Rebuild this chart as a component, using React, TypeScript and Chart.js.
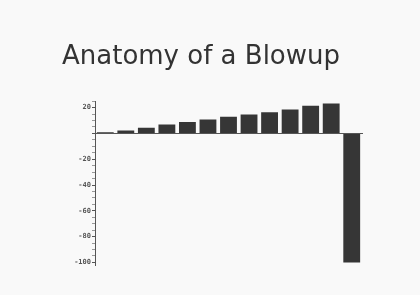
import React, { useEffect, useRef } from "react";
import { Chart, registerables } from "chart.js";

Chart.register(...registerables);

const categories = ["1", "2", "3", "4", "5", "6", "7", "8", "9", "10", "11", "12", "13"];
const values = [1, 2.3, 4.4, 7, 8.8, 10.8, 12.9, 14.7, 16.5, 18.6, 21.4, 23.2, -100];
const yMin = -102;
const yMax = 25;
const labelStep = 20;
const minorStep = 5;
const titleText = "Anatomy of a Blowup";

export default function App() {
  const ref = useRef<HTMLCanvasElement | null>(null);
  useEffect(() => {
    if (!ref.current) return;
    const chart = new Chart(ref.current, {
      type: "bar",
      data: {
        labels: categories,
        datasets: [
          {
            data: values,
            backgroundColor: "#363636",
            borderWidth: 0,
            categoryPercentage: 1,
            barPercentage: 0.82,
          },
        ],
      },
      options: {
        animation: false,
        responsive: true,
        maintainAspectRatio: false,
        layout: { padding: { left: 0, right: 18, top: 0, bottom: 30 } },
        plugins: {
          legend: { display: false },
          tooltip: { enabled: false },
          title: {
            display: true,
            text: titleText,
            color: "#333333",
            font: { family: "DejaVu Sans", size: 26, weight: "normal", lineHeight: 1.2 },
            padding: { top: 42, bottom: 28 },
          },
        },
        scales: {
          x: {
            position: { y: 0 } as any,
            grid: { display: false },
            ticks: { display: false },
            border: { display: true, color: "#555555", width: 1 },
          },
          y: {
            min: yMin,
            max: yMax,
            afterFit: (s: any) => {
              s.width = 95;
            },
            grid: {
              drawOnChartArea: false,
              drawTicks: true,
              tickLength: 3,
              tickColor: (ctx: any) =>
                ctx.tick && ctx.tick.value % labelStep === 0 ? "#555555" : "#999999",
            },
            border: { display: true, color: "#555555", width: 1 },
            ticks: {
              stepSize: minorStep,
              autoSkip: false,
              includeBounds: false,
              padding: 1,
              color: "#555555",
              font: { family: "DejaVu Sans Mono", size: 7, weight: "bold" },
              callback: (v: any) => (Number(v) % labelStep === 0 && Number(v) !== 0 ? String(v) : ""),
            },
          },
          yR: {
            position: "right",
            display: true,
            grid: { display: false, drawTicks: false },
            ticks: { display: false },
            border: { display: false },
            afterFit: (s: any) => {
              s.width = 40;
            },
          },
        },
      },
    });
    return () => chart.destroy();
  }, []);
  return (
    <div
      style={{
        position: "fixed",
        left: 0,
        top: 0,
        width: 420,
        height: 295,
        background: "#f9f9f9",
      }}
    >
      <canvas ref={ref} />
    </div>
  );
}
